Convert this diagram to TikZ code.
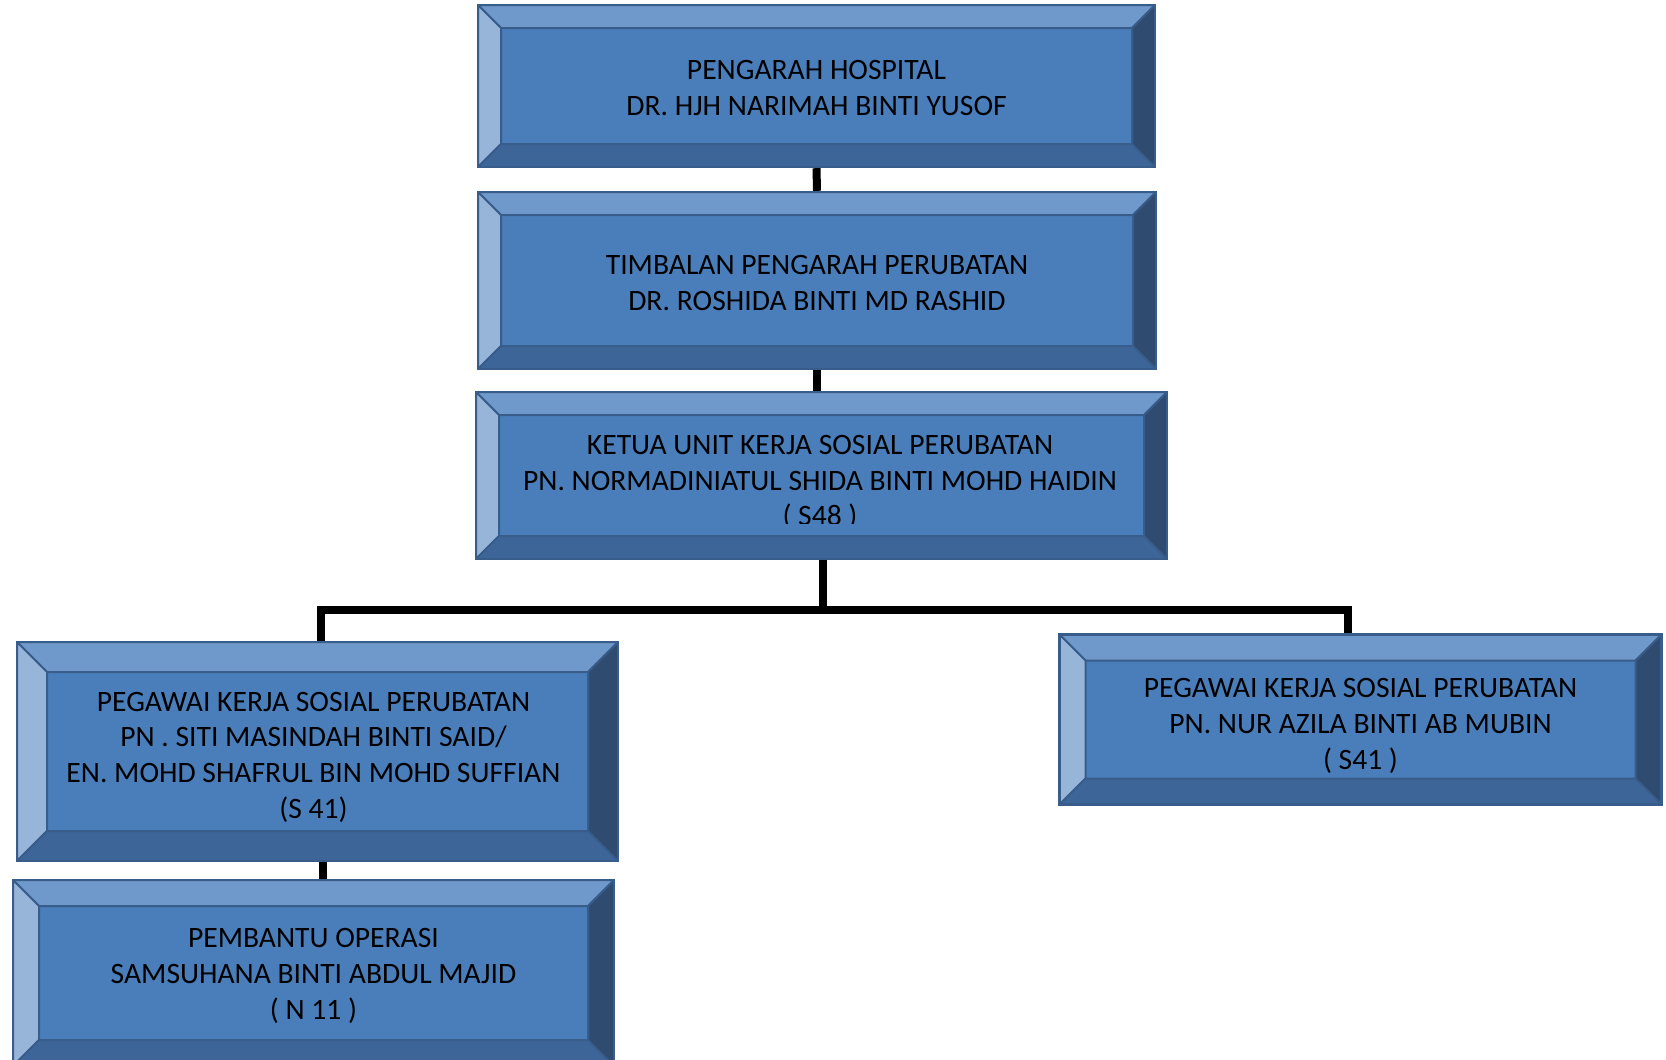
\documentclass[tikz,border=0pt]{standalone}
\usepackage{fontspec}
\setmainfont{Carlito}
\usepackage{xcolor}
\usepackage{tikz}
\usetikzlibrary{positioning,calc}
\definecolor{boxfill}{HTML}{4A7EBB}
\definecolor{boxedge}{HTML}{385D8A}
\definecolor{bevtop}{HTML}{7099CB}
\definecolor{bevleft}{HTML}{97B4D9}
\definecolor{bevright}{HTML}{2F4B70}
\definecolor{bevbot}{HTML}{3E6598}

\begin{document}
\begin{tikzpicture}[
		x=0.5pt, y=-0.5pt,
		font=\fontsize{14.8}{17.9}\selectfont,
		bev/.store in=\bevw, bev=11.5pt,
		face/.style={draw=boxedge, line width=1pt, line join=round},
		orgbox/.style={draw=boxedge, line width=1.2pt, fill=boxfill, inner sep=0pt,
				path picture={
						\coordinate (pa) at (path picture bounding box.north west);
						\coordinate (pb) at (path picture bounding box.north east);
						\coordinate (pc) at (path picture bounding box.south east);
						\coordinate (pd) at (path picture bounding box.south west);
						\coordinate (qa) at ($(pa)+(\bevw,-\bevw)$);
						\coordinate (qb) at ($(pb)+(-\bevw,-\bevw)$);
						\coordinate (qc) at ($(pc)+(-\bevw,\bevw)$);
						\coordinate (qd) at ($(pd)+(\bevw,\bevw)$);
						\filldraw[face, fill=bevtop] (pa) -- (pb) -- (qb) -- (qa) -- cycle;
						\filldraw[face, fill=bevleft] (pa) -- (pd) -- (qd) -- (qa) -- cycle;
						\filldraw[face, fill=bevright] (pb) -- (pc) -- (qc) -- (qb) -- cycle;
						\filldraw[face, fill=bevbot] (pd) -- (pc) -- (qc) -- (qd) -- cycle;
					}},
		boxtxt/.style={align=center, inner sep=0pt},
		link/.style={line width=4pt, black}
		]
		\useasboundingbox (0,0) rectangle (1666,1060);
		\clip (0,0) rectangle (1666,1060);

		\node[orgbox, minimum width=338.5pt, minimum height=81pt] (pengarah)
		at (816.5,86) {};
		\node[boxtxt] (pengarahtxt) at ([yshift=-1.1pt]pengarah.center)
		{PENGARAH HOSPITAL\\DR. HJH NARIMAH BINTI YUSOF};
		\node[orgbox, minimum width=339pt, minimum height=88.5pt] (timbalan)
		at (817,280.5) {};
		\node[boxtxt] (timbalantxt) at ([yshift=-1.1pt]timbalan.center)
		{TIMBALAN PENGARAH PERUBATAN\\DR. ROSHIDA BINTI MD RASHID};
		\node[orgbox, minimum width=345.5pt, minimum height=83.5pt] (ketua)
		at (821.5,475.5) {};
		\begin{scope}
			\clip (ketua.north west) rectangle ([yshift=18.5pt]ketua.south east);
			\node[boxtxt] (ketuatxt) at (820,482.5)
			{KETUA UNIT KERJA SOSIAL PERUBATAN\\
				PN. NORMADINIATUL SHIDA BINTI MOHD HAIDIN\\( S48 )};
		\end{scope}
		\node[orgbox, bev=15pt, minimum width=300.5pt, minimum height=109.5pt] (pksa)
		at (317.5,751.5) {};
		\node[boxtxt] (pksatxt) at ([xshift=-2pt, yshift=-2.9pt]pksa.center)
		{PEGAWAI KERJA SOSIAL PERUBATAN\\
			PN . SITI MASINDAH BINTI SAID/\\
			EN. MOHD SHAFRUL BIN MOHD SUFFIAN\\(S 41)};
		\node[orgbox, bev=13pt, minimum width=301pt, minimum height=85pt] (pksb)
		at (1360.5,719.5) {};
		\node[boxtxt] (pksbtxt) at ([yshift=-3.2pt]pksb.center)
		{PEGAWAI KERJA SOSIAL PERUBATAN\\
			PN. NUR AZILA BINTI AB MUBIN\\( S41 )};
		\node[orgbox, bev=13pt, minimum width=300.5pt, minimum height=93pt] (pembantu)
		at (313.5,973) {};
		\node[boxtxt] (pembantutxt) at ([yshift=-1.6pt]pembantu.center)
		{PEMBANTU OPERASI\\SAMSUHANA BINTI ABDUL MAJID\\( N 11 )};

		\draw[link] (pengarah.south) -- (timbalan.north);
		\draw[link] (timbalan.south) -- (ketua.north -| timbalan.south);
		\draw[link] ([xshift=0.75pt]ketua.south) -- ++(0,50) coordinate (bus);
		\draw[link] ([xshift=1.75pt]pksa.north) |- (bus) -| ([xshift=-6.25pt]pksb.north);
		\draw[link] ([xshift=2.75pt]pksa.south) -- ([xshift=2.75pt]pksa.south |- pembantu.north);
	\end{tikzpicture}
\end{document}
